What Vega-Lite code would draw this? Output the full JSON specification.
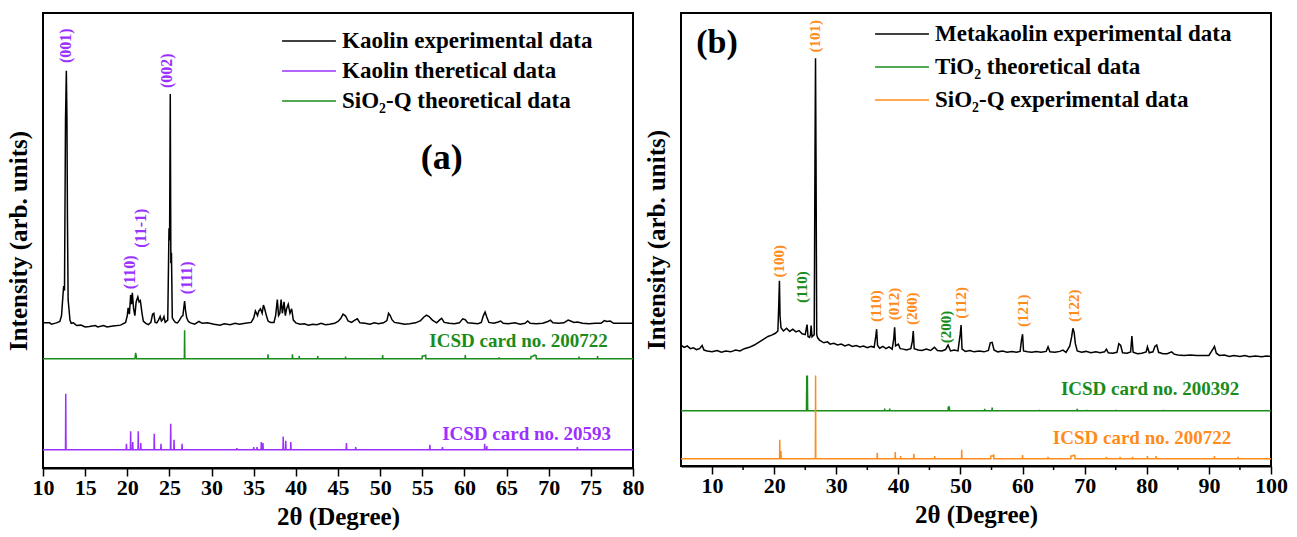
{
  "$schema": "https://vega.github.io/schema/vega-lite/v6.json",
  "background": "white",
  "padding": {"left": 5, "top": 12, "right": 5, "bottom": 5},
  "bounds": "flush",
  "spacing": 48,
  "config": {
    "font": "Liberation Serif",
    "view": {"stroke": "black", "strokeWidth": 2},
    "axis": {
      "grid": false,
      "labelFont": "Liberation Serif",
      "labelFontSize": 22,
      "labelFontWeight": "bold",
      "labelColor": "black",
      "titleFont": "Liberation Serif",
      "titleFontSize": 25,
      "titleFontWeight": "bold",
      "titleColor": "black",
      "tickColor": "black",
      "tickWidth": 1.5,
      "domainColor": "black",
      "domainWidth": 2,
      "labelOverlap": false,
      "labelFlush": false
    },
    "legend": {
      "labelFont": "Liberation Serif",
      "labelFontWeight": "bold",
      "labelFontSize": 23,
      "labelColor": "black",
      "labelLimit": 0,
      "symbolType": "stroke",
      "symbolSize": 2900,
      "symbolStrokeWidth": 1.5,
      "clipHeight": 22,
      "labelOffset": 5,
      "rowPadding": 7,
      "padding": 0,
      "title": null
    }
  },
  "resolve": {"scale": {"color": "independent"}},
  "hconcat": [
    {
      "width": 590,
      "height": 455,
      "layer": [
        {
          "data": {"name": "a_lines"},
          "mark": {"type": "line", "strokeWidth": 1.5},
          "encoding": {
            "x": {"field": "x", "type": "quantitative", "scale": {"domain": [10, 80], "nice": false, "zero": false},
              "axis": {"title": "2θ (Degree)", "values": [10,12.5,15,17.5,20,22.5,25,27.5,30,32.5,35,37.5,40,42.5,45,47.5,50,52.5,55,57.5,60,62.5,65,67.5,70,72.5,75,77.5,80],
                "labelExpr": "abs(datum.value / 5 - round(datum.value / 5)) < 0.01 ? datum.label : ''", "labelOverlap": false,
                "tickSize": {"condition": {"test": "abs(datum.value / 5 - round(datum.value / 5)) < 0.01", "value": 8}, "value": 4},
                "labelPadding": 1, "titlePadding": 6}},
            "y": {"field": "y", "type": "quantitative", "scale": {"domain": [0, 100], "nice": false},
              "axis": {"title": "Intensity (arb. units)", "labels": false, "ticks": false, "domain": false, "titlePadding": 12}},
            "color": {"field": "s", "type": "nominal",
              "scale": {"domain": ["Kaolin experimental data", "Kaolin theretical data", "SiO₂-Q theoretical data"], "range": ["#000000", "#9b30ff", "#1a8c1a"]},
              "legend": {"orient": "none", "legendX": 238, "legendY": 17}}
          }
        },
        {
          "data": {"name": "a_peaks"},
          "mark": {"type": "text", "angle": 270, "align": "left", "baseline": "middle", "font": "Liberation Serif", "fontWeight": "bold", "fontSize": 16, "color": "#9b30ff"},
          "encoding": {
            "x": {"field": "x", "type": "quantitative"},
            "y": {"field": "y", "type": "quantitative"},
            "text": {"field": "label"}
          }
        },
        {
          "data": {"name": "a_card_green"},
          "mark": {"type": "text", "align": "right", "baseline": "middle", "font": "Liberation Serif", "fontWeight": "bold", "fontSize": 19, "color": "#1a8c1a"},
          "encoding": {
            "x": {"field": "x", "type": "quantitative"},
            "y": {"field": "y", "type": "quantitative"},
            "text": {"field": "label"}
          }
        },
        {
          "data": {"name": "a_card_purple"},
          "mark": {"type": "text", "align": "right", "baseline": "middle", "font": "Liberation Serif", "fontWeight": "bold", "fontSize": 19, "color": "#9b30ff"},
          "encoding": {
            "x": {"field": "x", "type": "quantitative"},
            "y": {"field": "y", "type": "quantitative"},
            "text": {"field": "label"}
          }
        },
        {
          "data": {"name": "a_tag"},
          "mark": {"type": "text", "align": "center", "baseline": "middle", "font": "Liberation Serif", "fontWeight": "bold", "fontSize": 36, "color": "black"},
          "encoding": {
            "x": {"field": "x", "type": "quantitative"},
            "y": {"field": "y", "type": "quantitative"},
            "text": {"field": "label"}
          }
        }
      ]
    },
    {
      "width": 590,
      "height": 453,
      "layer": [
        {
          "data": {"name": "b_lines"},
          "mark": {"type": "line", "strokeWidth": 1.5},
          "encoding": {
            "x": {"field": "x", "type": "quantitative", "scale": {"domain": [5, 100], "nice": false, "zero": false},
              "axis": {"title": "2θ (Degree)", "values": [10,20,30,40,50,60,70,80,90,100],
                "labelOverlap": false, "tickSize": 8,
                "labelPadding": 1, "titlePadding": 6}},
            "y": {"field": "y", "type": "quantitative", "scale": {"domain": [0, 100], "nice": false},
              "axis": {"title": "Intensity (arb. units)", "labels": false, "ticks": false, "domain": false, "titlePadding": 12}},
            "color": {"field": "s", "type": "nominal",
              "scale": {"domain": ["Metakaolin experimental data", "TiO₂ theoretical data", "SiO₂-Q experimental data"], "range": ["#000000", "#1a8c1a", "#ff8c1a"]},
              "legend": {"orient": "none", "legendX": 193, "legendY": 10, "rowPadding": 10}}
          }
        },
        {
          "data": {"name": "b_minor"},
          "mark": {"type": "tick", "orient": "vertical", "size": 4, "thickness": 1.5, "yOffset": 2, "color": "black", "opacity": 1},
          "encoding": {
            "x": {"field": "x", "type": "quantitative"},
            "y": {"datum": 0, "type": "quantitative"}
          }
        },
        {
          "data": {"name": "b_peaks_orange"},
          "mark": {"type": "text", "angle": 270, "align": "left", "baseline": "middle", "font": "Liberation Serif", "fontWeight": "bold", "fontSize": 15, "color": "#ff8c1a"},
          "encoding": {
            "x": {"field": "x", "type": "quantitative"},
            "y": {"field": "y", "type": "quantitative"},
            "text": {"field": "label"}
          }
        },
        {
          "data": {"name": "b_peaks_green"},
          "mark": {"type": "text", "angle": 270, "align": "left", "baseline": "middle", "font": "Liberation Serif", "fontWeight": "bold", "fontSize": 15, "color": "#1a8c1a"},
          "encoding": {
            "x": {"field": "x", "type": "quantitative"},
            "y": {"field": "y", "type": "quantitative"},
            "text": {"field": "label"}
          }
        },
        {
          "data": {"name": "b_card_green"},
          "mark": {"type": "text", "align": "right", "baseline": "middle", "font": "Liberation Serif", "fontWeight": "bold", "fontSize": 19, "color": "#1a8c1a"},
          "encoding": {
            "x": {"field": "x", "type": "quantitative"},
            "y": {"field": "y", "type": "quantitative"},
            "text": {"field": "label"}
          }
        },
        {
          "data": {"name": "b_card_orange"},
          "mark": {"type": "text", "align": "right", "baseline": "middle", "font": "Liberation Serif", "fontWeight": "bold", "fontSize": 19, "color": "#ff8c1a"},
          "encoding": {
            "x": {"field": "x", "type": "quantitative"},
            "y": {"field": "y", "type": "quantitative"},
            "text": {"field": "label"}
          }
        },
        {
          "data": {"name": "b_tag"},
          "mark": {"type": "text", "align": "center", "baseline": "middle", "font": "Liberation Serif", "fontWeight": "bold", "fontSize": 34, "color": "black"},
          "encoding": {
            "x": {"field": "x", "type": "quantitative"},
            "y": {"field": "y", "type": "quantitative"},
            "text": {"field": "label"}
          }
        }
      ]
    }
  ],
  "datasets": {
    "b_minor": [{"x": 15}, {"x": 25}, {"x": 35}, {"x": 45}, {"x": 55}, {"x": 65}, {"x": 75}, {"x": 85}, {"x": 95}],
    "a_peaks": [
      {"x": 12.75, "y": 89.0, "label": "(001)"},
      {"x": 20.3, "y": 39.3, "label": "(110)"},
      {"x": 21.65, "y": 48.4, "label": "(11-1)"},
      {"x": 24.7, "y": 83.5, "label": "(002)"},
      {"x": 27.05, "y": 38.2, "label": "(111)"}
    ],
    "a_card_green": [{"x": 77.0, "y": 27.9, "label": "ICSD card no. 200722"}],
    "a_card_purple": [{"x": 77.4, "y": 7.5, "label": "ICSD card no. 20593"}],
    "a_tag": [{"x": 57.3, "y": 68.1, "label": "(a)"}],
    "b_peaks_orange": [
      {"x": 20.8, "y": 41.6, "label": "(100)"},
      {"x": 26.55, "y": 91.3, "label": "(101)"},
      {"x": 36.4, "y": 31.8, "label": "(110)"},
      {"x": 39.3, "y": 32.2, "label": "(012)"},
      {"x": 42.2, "y": 31.1, "label": "(200)"},
      {"x": 50.1, "y": 32.5, "label": "(112)"},
      {"x": 60.1, "y": 30.7, "label": "(121)"},
      {"x": 68.3, "y": 31.8, "label": "(122)"}
    ],
    "b_peaks_green": [
      {"x": 24.5, "y": 36.0, "label": "(110)"},
      {"x": 47.6, "y": 27.1, "label": "(200)"}
    ],
    "b_card_green": [{"x": 94.9, "y": 17.1, "label": "ICSD card no. 200392"}],
    "b_card_orange": [{"x": 93.6, "y": 6.2, "label": "ICSD card no. 200722"}],
    "b_tag": [{"x": 10.8, "y": 93.3, "label": "(b)"}],
    "a_lines": [
      {"s": "Kaolin experimental data", "x": 10.0, "y": 31.9},
      {"s": "Kaolin experimental data", "x": 10.8, "y": 31.9},
      {"s": "Kaolin experimental data", "x": 11.0, "y": 31.6},
      {"s": "Kaolin experimental data", "x": 11.6, "y": 31.9},
      {"s": "Kaolin experimental data", "x": 12.0, "y": 32.2},
      {"s": "Kaolin experimental data", "x": 12.2, "y": 33.5},
      {"s": "Kaolin experimental data", "x": 12.35, "y": 37.5},
      {"s": "Kaolin experimental data", "x": 12.45, "y": 40.0},
      {"s": "Kaolin experimental data", "x": 12.55, "y": 39.0},
      {"s": "Kaolin experimental data", "x": 12.67, "y": 76.5},
      {"s": "Kaolin experimental data", "x": 12.77, "y": 87.3},
      {"s": "Kaolin experimental data", "x": 12.84, "y": 77.0},
      {"s": "Kaolin experimental data", "x": 12.9, "y": 55.0},
      {"s": "Kaolin experimental data", "x": 12.98, "y": 37.0},
      {"s": "Kaolin experimental data", "x": 13.08, "y": 35.0},
      {"s": "Kaolin experimental data", "x": 13.2, "y": 32.5},
      {"s": "Kaolin experimental data", "x": 13.35, "y": 31.8},
      {"s": "Kaolin experimental data", "x": 13.6, "y": 31.9},
      {"s": "Kaolin experimental data", "x": 14.0, "y": 31.3},
      {"s": "Kaolin experimental data", "x": 14.5, "y": 31.4},
      {"s": "Kaolin experimental data", "x": 15.0, "y": 31.0},
      {"s": "Kaolin experimental data", "x": 15.5, "y": 31.1},
      {"s": "Kaolin experimental data", "x": 16.2, "y": 31.3},
      {"s": "Kaolin experimental data", "x": 16.5, "y": 31.0},
      {"s": "Kaolin experimental data", "x": 17.2, "y": 31.3},
      {"s": "Kaolin experimental data", "x": 17.6, "y": 31.0},
      {"s": "Kaolin experimental data", "x": 18.3, "y": 31.2},
      {"s": "Kaolin experimental data", "x": 18.8, "y": 31.3},
      {"s": "Kaolin experimental data", "x": 19.2, "y": 31.4},
      {"s": "Kaolin experimental data", "x": 19.8, "y": 32.0},
      {"s": "Kaolin experimental data", "x": 20.0, "y": 33.5},
      {"s": "Kaolin experimental data", "x": 20.1, "y": 35.2},
      {"s": "Kaolin experimental data", "x": 20.25, "y": 33.8},
      {"s": "Kaolin experimental data", "x": 20.4, "y": 38.0},
      {"s": "Kaolin experimental data", "x": 20.5, "y": 36.0},
      {"s": "Kaolin experimental data", "x": 20.6, "y": 38.5},
      {"s": "Kaolin experimental data", "x": 20.75, "y": 35.0},
      {"s": "Kaolin experimental data", "x": 20.9, "y": 33.5},
      {"s": "Kaolin experimental data", "x": 21.05, "y": 36.5},
      {"s": "Kaolin experimental data", "x": 21.25, "y": 37.6},
      {"s": "Kaolin experimental data", "x": 21.4, "y": 36.5},
      {"s": "Kaolin experimental data", "x": 21.55, "y": 36.8},
      {"s": "Kaolin experimental data", "x": 21.75, "y": 34.0},
      {"s": "Kaolin experimental data", "x": 21.9, "y": 32.3},
      {"s": "Kaolin experimental data", "x": 22.2, "y": 31.8},
      {"s": "Kaolin experimental data", "x": 22.5, "y": 31.5},
      {"s": "Kaolin experimental data", "x": 22.8, "y": 32.0},
      {"s": "Kaolin experimental data", "x": 23.0, "y": 33.8},
      {"s": "Kaolin experimental data", "x": 23.15, "y": 34.0},
      {"s": "Kaolin experimental data", "x": 23.3, "y": 32.0},
      {"s": "Kaolin experimental data", "x": 23.5, "y": 31.9},
      {"s": "Kaolin experimental data", "x": 23.7, "y": 32.5},
      {"s": "Kaolin experimental data", "x": 23.9, "y": 33.3},
      {"s": "Kaolin experimental data", "x": 24.05, "y": 32.3},
      {"s": "Kaolin experimental data", "x": 24.2, "y": 32.6},
      {"s": "Kaolin experimental data", "x": 24.35, "y": 33.3},
      {"s": "Kaolin experimental data", "x": 24.5, "y": 32.0},
      {"s": "Kaolin experimental data", "x": 24.8, "y": 32.5},
      {"s": "Kaolin experimental data", "x": 24.95, "y": 52.7},
      {"s": "Kaolin experimental data", "x": 25.02, "y": 50.0},
      {"s": "Kaolin experimental data", "x": 25.1, "y": 82.2},
      {"s": "Kaolin experimental data", "x": 25.17, "y": 45.0},
      {"s": "Kaolin experimental data", "x": 25.24, "y": 47.3},
      {"s": "Kaolin experimental data", "x": 25.34, "y": 33.0},
      {"s": "Kaolin experimental data", "x": 25.5, "y": 32.5},
      {"s": "Kaolin experimental data", "x": 25.7, "y": 32.0},
      {"s": "Kaolin experimental data", "x": 25.95, "y": 31.9},
      {"s": "Kaolin experimental data", "x": 26.2, "y": 32.5},
      {"s": "Kaolin experimental data", "x": 26.45, "y": 33.3},
      {"s": "Kaolin experimental data", "x": 26.6, "y": 33.5},
      {"s": "Kaolin experimental data", "x": 26.8, "y": 36.7},
      {"s": "Kaolin experimental data", "x": 26.92, "y": 34.5},
      {"s": "Kaolin experimental data", "x": 27.05, "y": 33.0},
      {"s": "Kaolin experimental data", "x": 27.25, "y": 32.2},
      {"s": "Kaolin experimental data", "x": 27.5, "y": 31.9},
      {"s": "Kaolin experimental data", "x": 28.0, "y": 31.6},
      {"s": "Kaolin experimental data", "x": 28.5, "y": 32.2},
      {"s": "Kaolin experimental data", "x": 28.9, "y": 31.8},
      {"s": "Kaolin experimental data", "x": 29.5, "y": 31.9},
      {"s": "Kaolin experimental data", "x": 30.3, "y": 31.6},
      {"s": "Kaolin experimental data", "x": 31.0, "y": 31.4},
      {"s": "Kaolin experimental data", "x": 31.5, "y": 31.7},
      {"s": "Kaolin experimental data", "x": 32.2, "y": 31.5},
      {"s": "Kaolin experimental data", "x": 32.8, "y": 31.8},
      {"s": "Kaolin experimental data", "x": 33.3, "y": 31.6},
      {"s": "Kaolin experimental data", "x": 34.0, "y": 31.8},
      {"s": "Kaolin experimental data", "x": 34.7, "y": 32.0},
      {"s": "Kaolin experimental data", "x": 35.0, "y": 33.0},
      {"s": "Kaolin experimental data", "x": 35.2, "y": 34.5},
      {"s": "Kaolin experimental data", "x": 35.45, "y": 33.5},
      {"s": "Kaolin experimental data", "x": 35.6, "y": 34.5},
      {"s": "Kaolin experimental data", "x": 35.8, "y": 35.0},
      {"s": "Kaolin experimental data", "x": 36.0, "y": 34.0},
      {"s": "Kaolin experimental data", "x": 36.15, "y": 35.8},
      {"s": "Kaolin experimental data", "x": 36.3, "y": 35.0},
      {"s": "Kaolin experimental data", "x": 36.5, "y": 33.5},
      {"s": "Kaolin experimental data", "x": 36.7, "y": 32.3},
      {"s": "Kaolin experimental data", "x": 37.0, "y": 32.0},
      {"s": "Kaolin experimental data", "x": 37.4, "y": 32.0},
      {"s": "Kaolin experimental data", "x": 37.6, "y": 33.5},
      {"s": "Kaolin experimental data", "x": 37.8, "y": 37.0},
      {"s": "Kaolin experimental data", "x": 37.95, "y": 33.5},
      {"s": "Kaolin experimental data", "x": 38.1, "y": 34.0},
      {"s": "Kaolin experimental data", "x": 38.25, "y": 37.0},
      {"s": "Kaolin experimental data", "x": 38.4, "y": 34.0},
      {"s": "Kaolin experimental data", "x": 38.6, "y": 36.5},
      {"s": "Kaolin experimental data", "x": 38.75, "y": 33.5},
      {"s": "Kaolin experimental data", "x": 38.9, "y": 35.0},
      {"s": "Kaolin experimental data", "x": 39.1, "y": 36.0},
      {"s": "Kaolin experimental data", "x": 39.3, "y": 34.0},
      {"s": "Kaolin experimental data", "x": 39.5, "y": 35.0},
      {"s": "Kaolin experimental data", "x": 39.7, "y": 32.5},
      {"s": "Kaolin experimental data", "x": 40.0, "y": 31.9},
      {"s": "Kaolin experimental data", "x": 40.5, "y": 31.6},
      {"s": "Kaolin experimental data", "x": 41.0, "y": 31.7},
      {"s": "Kaolin experimental data", "x": 41.5, "y": 31.4},
      {"s": "Kaolin experimental data", "x": 42.0, "y": 31.6},
      {"s": "Kaolin experimental data", "x": 42.5, "y": 31.5},
      {"s": "Kaolin experimental data", "x": 43.0, "y": 31.8},
      {"s": "Kaolin experimental data", "x": 43.5, "y": 31.5},
      {"s": "Kaolin experimental data", "x": 44.0, "y": 31.6},
      {"s": "Kaolin experimental data", "x": 44.6, "y": 31.8},
      {"s": "Kaolin experimental data", "x": 45.0, "y": 32.2},
      {"s": "Kaolin experimental data", "x": 45.3, "y": 32.8},
      {"s": "Kaolin experimental data", "x": 45.6, "y": 33.8},
      {"s": "Kaolin experimental data", "x": 45.9, "y": 33.4},
      {"s": "Kaolin experimental data", "x": 46.2, "y": 32.3},
      {"s": "Kaolin experimental data", "x": 46.6, "y": 32.0},
      {"s": "Kaolin experimental data", "x": 47.0, "y": 32.5},
      {"s": "Kaolin experimental data", "x": 47.3, "y": 32.8},
      {"s": "Kaolin experimental data", "x": 47.6, "y": 31.9},
      {"s": "Kaolin experimental data", "x": 48.2, "y": 31.8},
      {"s": "Kaolin experimental data", "x": 48.8, "y": 31.6},
      {"s": "Kaolin experimental data", "x": 49.3, "y": 31.9},
      {"s": "Kaolin experimental data", "x": 49.8, "y": 31.7},
      {"s": "Kaolin experimental data", "x": 50.4, "y": 31.9},
      {"s": "Kaolin experimental data", "x": 50.8, "y": 32.4},
      {"s": "Kaolin experimental data", "x": 51.0, "y": 34.0},
      {"s": "Kaolin experimental data", "x": 51.2, "y": 33.5},
      {"s": "Kaolin experimental data", "x": 51.4, "y": 32.6},
      {"s": "Kaolin experimental data", "x": 51.7, "y": 32.0},
      {"s": "Kaolin experimental data", "x": 52.3, "y": 31.8},
      {"s": "Kaolin experimental data", "x": 52.9, "y": 31.6},
      {"s": "Kaolin experimental data", "x": 53.5, "y": 31.7},
      {"s": "Kaolin experimental data", "x": 54.2, "y": 31.9},
      {"s": "Kaolin experimental data", "x": 54.8, "y": 32.4},
      {"s": "Kaolin experimental data", "x": 55.2, "y": 33.2},
      {"s": "Kaolin experimental data", "x": 55.5, "y": 33.6},
      {"s": "Kaolin experimental data", "x": 55.8, "y": 33.3},
      {"s": "Kaolin experimental data", "x": 56.2, "y": 32.5},
      {"s": "Kaolin experimental data", "x": 56.7, "y": 31.9},
      {"s": "Kaolin experimental data", "x": 57.1, "y": 32.6},
      {"s": "Kaolin experimental data", "x": 57.3, "y": 32.9},
      {"s": "Kaolin experimental data", "x": 57.6, "y": 32.0},
      {"s": "Kaolin experimental data", "x": 58.2, "y": 31.8},
      {"s": "Kaolin experimental data", "x": 58.8, "y": 31.7},
      {"s": "Kaolin experimental data", "x": 59.4, "y": 31.9},
      {"s": "Kaolin experimental data", "x": 59.8, "y": 32.8},
      {"s": "Kaolin experimental data", "x": 60.1, "y": 32.6},
      {"s": "Kaolin experimental data", "x": 60.4, "y": 31.9},
      {"s": "Kaolin experimental data", "x": 61.0, "y": 31.8},
      {"s": "Kaolin experimental data", "x": 61.6, "y": 31.7},
      {"s": "Kaolin experimental data", "x": 62.0, "y": 32.0},
      {"s": "Kaolin experimental data", "x": 62.25, "y": 33.5},
      {"s": "Kaolin experimental data", "x": 62.45, "y": 34.3},
      {"s": "Kaolin experimental data", "x": 62.65, "y": 33.2},
      {"s": "Kaolin experimental data", "x": 62.9, "y": 32.0},
      {"s": "Kaolin experimental data", "x": 63.5, "y": 31.8},
      {"s": "Kaolin experimental data", "x": 64.0, "y": 32.1},
      {"s": "Kaolin experimental data", "x": 64.3, "y": 32.3},
      {"s": "Kaolin experimental data", "x": 64.6, "y": 31.8},
      {"s": "Kaolin experimental data", "x": 65.2, "y": 31.7},
      {"s": "Kaolin experimental data", "x": 66.0, "y": 31.9},
      {"s": "Kaolin experimental data", "x": 66.6, "y": 31.6},
      {"s": "Kaolin experimental data", "x": 67.2, "y": 31.8},
      {"s": "Kaolin experimental data", "x": 67.5, "y": 32.3},
      {"s": "Kaolin experimental data", "x": 67.8, "y": 31.8},
      {"s": "Kaolin experimental data", "x": 68.5, "y": 31.7},
      {"s": "Kaolin experimental data", "x": 69.3, "y": 31.8},
      {"s": "Kaolin experimental data", "x": 69.9, "y": 32.2},
      {"s": "Kaolin experimental data", "x": 70.2, "y": 32.5},
      {"s": "Kaolin experimental data", "x": 70.5, "y": 31.9},
      {"s": "Kaolin experimental data", "x": 71.2, "y": 31.8},
      {"s": "Kaolin experimental data", "x": 71.8, "y": 31.9},
      {"s": "Kaolin experimental data", "x": 72.3, "y": 32.5},
      {"s": "Kaolin experimental data", "x": 72.6, "y": 32.3},
      {"s": "Kaolin experimental data", "x": 73.0, "y": 32.0},
      {"s": "Kaolin experimental data", "x": 73.4, "y": 32.1},
      {"s": "Kaolin experimental data", "x": 74.0, "y": 31.8},
      {"s": "Kaolin experimental data", "x": 74.8, "y": 31.7},
      {"s": "Kaolin experimental data", "x": 75.5, "y": 31.8},
      {"s": "Kaolin experimental data", "x": 76.2, "y": 31.8},
      {"s": "Kaolin experimental data", "x": 76.6, "y": 32.4},
      {"s": "Kaolin experimental data", "x": 76.9, "y": 32.2},
      {"s": "Kaolin experimental data", "x": 77.3, "y": 32.3},
      {"s": "Kaolin experimental data", "x": 77.7, "y": 31.8},
      {"s": "Kaolin experimental data", "x": 78.5, "y": 31.8},
      {"s": "Kaolin experimental data", "x": 79.3, "y": 31.8},
      {"s": "Kaolin experimental data", "x": 80.0, "y": 31.8},

      {"s": "Kaolin theretical data", "x": 10.0, "y": 4.0},
      {"s": "Kaolin theretical data", "x": 12.67, "y": 4.0},
      {"s": "Kaolin theretical data", "x": 12.7, "y": 16.3},
      {"s": "Kaolin theretical data", "x": 12.73, "y": 4.0},
      {"s": "Kaolin theretical data", "x": 19.87, "y": 4.0},
      {"s": "Kaolin theretical data", "x": 19.9, "y": 5.3},
      {"s": "Kaolin theretical data", "x": 19.93, "y": 4.0},
      {"s": "Kaolin theretical data", "x": 20.37, "y": 4.0},
      {"s": "Kaolin theretical data", "x": 20.4, "y": 8.1},
      {"s": "Kaolin theretical data", "x": 20.43, "y": 4.0},
      {"s": "Kaolin theretical data", "x": 20.62, "y": 4.0},
      {"s": "Kaolin theretical data", "x": 20.65, "y": 5.7},
      {"s": "Kaolin theretical data", "x": 20.68, "y": 4.0},
      {"s": "Kaolin theretical data", "x": 21.27, "y": 4.0},
      {"s": "Kaolin theretical data", "x": 21.3, "y": 8.1},
      {"s": "Kaolin theretical data", "x": 21.33, "y": 4.0},
      {"s": "Kaolin theretical data", "x": 21.57, "y": 4.0},
      {"s": "Kaolin theretical data", "x": 21.6, "y": 5.5},
      {"s": "Kaolin theretical data", "x": 21.63, "y": 4.0},
      {"s": "Kaolin theretical data", "x": 23.17, "y": 4.0},
      {"s": "Kaolin theretical data", "x": 23.2, "y": 7.5},
      {"s": "Kaolin theretical data", "x": 23.23, "y": 4.0},
      {"s": "Kaolin theretical data", "x": 23.97, "y": 4.0},
      {"s": "Kaolin theretical data", "x": 24.0, "y": 5.3},
      {"s": "Kaolin theretical data", "x": 24.03, "y": 4.0},
      {"s": "Kaolin theretical data", "x": 25.12, "y": 4.0},
      {"s": "Kaolin theretical data", "x": 25.15, "y": 9.7},
      {"s": "Kaolin theretical data", "x": 25.18, "y": 4.0},
      {"s": "Kaolin theretical data", "x": 25.52, "y": 4.0},
      {"s": "Kaolin theretical data", "x": 25.55, "y": 6.2},
      {"s": "Kaolin theretical data", "x": 25.58, "y": 4.0},
      {"s": "Kaolin theretical data", "x": 26.47, "y": 4.0},
      {"s": "Kaolin theretical data", "x": 26.5, "y": 5.3},
      {"s": "Kaolin theretical data", "x": 26.53, "y": 4.0},
      {"s": "Kaolin theretical data", "x": 32.97, "y": 4.0},
      {"s": "Kaolin theretical data", "x": 33.0, "y": 4.4},
      {"s": "Kaolin theretical data", "x": 33.03, "y": 4.0},
      {"s": "Kaolin theretical data", "x": 34.97, "y": 4.0},
      {"s": "Kaolin theretical data", "x": 35.0, "y": 4.6},
      {"s": "Kaolin theretical data", "x": 35.03, "y": 4.0},
      {"s": "Kaolin theretical data", "x": 35.37, "y": 4.0},
      {"s": "Kaolin theretical data", "x": 35.4, "y": 4.6},
      {"s": "Kaolin theretical data", "x": 35.43, "y": 4.0},
      {"s": "Kaolin theretical data", "x": 35.87, "y": 4.0},
      {"s": "Kaolin theretical data", "x": 35.9, "y": 5.7},
      {"s": "Kaolin theretical data", "x": 35.93, "y": 4.0},
      {"s": "Kaolin theretical data", "x": 36.07, "y": 4.0},
      {"s": "Kaolin theretical data", "x": 36.1, "y": 5.5},
      {"s": "Kaolin theretical data", "x": 36.13, "y": 4.0},
      {"s": "Kaolin theretical data", "x": 38.47, "y": 4.0},
      {"s": "Kaolin theretical data", "x": 38.5, "y": 6.9},
      {"s": "Kaolin theretical data", "x": 38.53, "y": 4.0},
      {"s": "Kaolin theretical data", "x": 38.77, "y": 4.0},
      {"s": "Kaolin theretical data", "x": 38.8, "y": 6.0},
      {"s": "Kaolin theretical data", "x": 38.83, "y": 4.0},
      {"s": "Kaolin theretical data", "x": 39.37, "y": 4.0},
      {"s": "Kaolin theretical data", "x": 39.4, "y": 5.7},
      {"s": "Kaolin theretical data", "x": 39.43, "y": 4.0},
      {"s": "Kaolin theretical data", "x": 45.97, "y": 4.0},
      {"s": "Kaolin theretical data", "x": 46.0, "y": 5.5},
      {"s": "Kaolin theretical data", "x": 46.03, "y": 4.0},
      {"s": "Kaolin theretical data", "x": 47.07, "y": 4.0},
      {"s": "Kaolin theretical data", "x": 47.1, "y": 4.6},
      {"s": "Kaolin theretical data", "x": 47.13, "y": 4.0},
      {"s": "Kaolin theretical data", "x": 55.87, "y": 4.0},
      {"s": "Kaolin theretical data", "x": 55.9, "y": 5.1},
      {"s": "Kaolin theretical data", "x": 55.93, "y": 4.0},
      {"s": "Kaolin theretical data", "x": 57.37, "y": 4.0},
      {"s": "Kaolin theretical data", "x": 57.4, "y": 4.6},
      {"s": "Kaolin theretical data", "x": 57.43, "y": 4.0},
      {"s": "Kaolin theretical data", "x": 62.37, "y": 4.0},
      {"s": "Kaolin theretical data", "x": 62.4, "y": 5.3},
      {"s": "Kaolin theretical data", "x": 62.43, "y": 4.0},
      {"s": "Kaolin theretical data", "x": 62.62, "y": 4.0},
      {"s": "Kaolin theretical data", "x": 62.65, "y": 4.8},
      {"s": "Kaolin theretical data", "x": 62.68, "y": 4.0},
      {"s": "Kaolin theretical data", "x": 73.37, "y": 4.0},
      {"s": "Kaolin theretical data", "x": 73.4, "y": 4.6},
      {"s": "Kaolin theretical data", "x": 73.43, "y": 4.0},
      {"s": "Kaolin theretical data", "x": 80.0, "y": 4.0},

      {"s": "SiO₂-Q theoretical data", "x": 10.0, "y": 24.0},
      {"s": "SiO₂-Q theoretical data", "x": 20.9, "y": 24.0},
      {"s": "SiO₂-Q theoretical data", "x": 21.0, "y": 25.3},
      {"s": "SiO₂-Q theoretical data", "x": 21.1, "y": 24.0},
      {"s": "SiO₂-Q theoretical data", "x": 26.77, "y": 24.0},
      {"s": "SiO₂-Q theoretical data", "x": 26.8, "y": 30.3},
      {"s": "SiO₂-Q theoretical data", "x": 26.83, "y": 24.0},
      {"s": "SiO₂-Q theoretical data", "x": 36.67, "y": 24.0},
      {"s": "SiO₂-Q theoretical data", "x": 36.7, "y": 25.0},
      {"s": "SiO₂-Q theoretical data", "x": 36.73, "y": 24.0},
      {"s": "SiO₂-Q theoretical data", "x": 39.57, "y": 24.0},
      {"s": "SiO₂-Q theoretical data", "x": 39.6, "y": 25.0},
      {"s": "SiO₂-Q theoretical data", "x": 39.63, "y": 24.0},
      {"s": "SiO₂-Q theoretical data", "x": 40.37, "y": 24.0},
      {"s": "SiO₂-Q theoretical data", "x": 40.4, "y": 24.6},
      {"s": "SiO₂-Q theoretical data", "x": 40.43, "y": 24.0},
      {"s": "SiO₂-Q theoretical data", "x": 42.57, "y": 24.0},
      {"s": "SiO₂-Q theoretical data", "x": 42.6, "y": 24.6},
      {"s": "SiO₂-Q theoretical data", "x": 42.63, "y": 24.0},
      {"s": "SiO₂-Q theoretical data", "x": 45.87, "y": 24.0},
      {"s": "SiO₂-Q theoretical data", "x": 45.9, "y": 24.5},
      {"s": "SiO₂-Q theoretical data", "x": 45.93, "y": 24.0},
      {"s": "SiO₂-Q theoretical data", "x": 50.27, "y": 24.0},
      {"s": "SiO₂-Q theoretical data", "x": 50.3, "y": 24.8},
      {"s": "SiO₂-Q theoretical data", "x": 50.33, "y": 24.0},
      {"s": "SiO₂-Q theoretical data", "x": 54.97, "y": 24.0},
      {"s": "SiO₂-Q theoretical data", "x": 55.0, "y": 24.6},
      {"s": "SiO₂-Q theoretical data", "x": 55.2, "y": 24.6},
      {"s": "SiO₂-Q theoretical data", "x": 55.4, "y": 24.8},
      {"s": "SiO₂-Q theoretical data", "x": 55.43, "y": 24.0},
      {"s": "SiO₂-Q theoretical data", "x": 60.07, "y": 24.0},
      {"s": "SiO₂-Q theoretical data", "x": 60.1, "y": 24.8},
      {"s": "SiO₂-Q theoretical data", "x": 60.13, "y": 24.0},
      {"s": "SiO₂-Q theoretical data", "x": 64.07, "y": 24.0},
      {"s": "SiO₂-Q theoretical data", "x": 64.1, "y": 24.3},
      {"s": "SiO₂-Q theoretical data", "x": 64.13, "y": 24.0},
      {"s": "SiO₂-Q theoretical data", "x": 67.87, "y": 24.0},
      {"s": "SiO₂-Q theoretical data", "x": 67.9, "y": 24.5},
      {"s": "SiO₂-Q theoretical data", "x": 68.1, "y": 24.5},
      {"s": "SiO₂-Q theoretical data", "x": 68.3, "y": 24.8},
      {"s": "SiO₂-Q theoretical data", "x": 68.5, "y": 24.7},
      {"s": "SiO₂-Q theoretical data", "x": 68.53, "y": 24.0},
      {"s": "SiO₂-Q theoretical data", "x": 73.57, "y": 24.0},
      {"s": "SiO₂-Q theoretical data", "x": 73.6, "y": 24.5},
      {"s": "SiO₂-Q theoretical data", "x": 73.63, "y": 24.0},
      {"s": "SiO₂-Q theoretical data", "x": 75.77, "y": 24.0},
      {"s": "SiO₂-Q theoretical data", "x": 75.8, "y": 24.6},
      {"s": "SiO₂-Q theoretical data", "x": 75.83, "y": 24.0},
      {"s": "SiO₂-Q theoretical data", "x": 80.0, "y": 24.0}
    ],
    "b_lines": [
      {"s": "Metakaolin experimental data", "x": 5.0, "y": 26.7},
      {"s": "Metakaolin experimental data", "x": 5.5, "y": 26.2},
      {"s": "Metakaolin experimental data", "x": 6.0, "y": 26.5},
      {"s": "Metakaolin experimental data", "x": 6.5, "y": 25.9},
      {"s": "Metakaolin experimental data", "x": 7.0, "y": 26.1},
      {"s": "Metakaolin experimental data", "x": 7.5, "y": 25.7},
      {"s": "Metakaolin experimental data", "x": 8.0, "y": 25.9},
      {"s": "Metakaolin experimental data", "x": 8.4, "y": 26.6},
      {"s": "Metakaolin experimental data", "x": 8.7, "y": 25.6},
      {"s": "Metakaolin experimental data", "x": 9.2, "y": 25.4},
      {"s": "Metakaolin experimental data", "x": 10.0, "y": 25.2},
      {"s": "Metakaolin experimental data", "x": 10.8, "y": 25.5},
      {"s": "Metakaolin experimental data", "x": 11.5, "y": 25.1},
      {"s": "Metakaolin experimental data", "x": 12.2, "y": 25.4},
      {"s": "Metakaolin experimental data", "x": 13.0, "y": 25.2},
      {"s": "Metakaolin experimental data", "x": 13.8, "y": 25.6},
      {"s": "Metakaolin experimental data", "x": 14.5, "y": 25.4},
      {"s": "Metakaolin experimental data", "x": 15.2, "y": 25.9},
      {"s": "Metakaolin experimental data", "x": 16.0, "y": 26.2},
      {"s": "Metakaolin experimental data", "x": 16.8, "y": 26.7},
      {"s": "Metakaolin experimental data", "x": 17.5, "y": 27.3},
      {"s": "Metakaolin experimental data", "x": 18.2, "y": 27.9},
      {"s": "Metakaolin experimental data", "x": 19.0, "y": 28.6},
      {"s": "Metakaolin experimental data", "x": 19.6, "y": 28.9},
      {"s": "Metakaolin experimental data", "x": 20.2, "y": 29.3},
      {"s": "Metakaolin experimental data", "x": 20.6, "y": 29.8},
      {"s": "Metakaolin experimental data", "x": 20.75, "y": 36.0},
      {"s": "Metakaolin experimental data", "x": 20.85, "y": 40.9},
      {"s": "Metakaolin experimental data", "x": 20.95, "y": 33.0},
      {"s": "Metakaolin experimental data", "x": 21.1, "y": 30.5},
      {"s": "Metakaolin experimental data", "x": 21.5, "y": 29.8},
      {"s": "Metakaolin experimental data", "x": 22.0, "y": 30.4},
      {"s": "Metakaolin experimental data", "x": 22.5, "y": 29.7},
      {"s": "Metakaolin experimental data", "x": 23.0, "y": 30.2},
      {"s": "Metakaolin experimental data", "x": 23.5, "y": 29.6},
      {"s": "Metakaolin experimental data", "x": 24.0, "y": 29.9},
      {"s": "Metakaolin experimental data", "x": 24.5, "y": 29.2},
      {"s": "Metakaolin experimental data", "x": 25.0, "y": 29.0},
      {"s": "Metakaolin experimental data", "x": 25.2, "y": 30.5},
      {"s": "Metakaolin experimental data", "x": 25.3, "y": 31.2},
      {"s": "Metakaolin experimental data", "x": 25.45, "y": 28.6},
      {"s": "Metakaolin experimental data", "x": 25.7, "y": 28.4},
      {"s": "Metakaolin experimental data", "x": 25.85, "y": 29.0},
      {"s": "Metakaolin experimental data", "x": 25.95, "y": 31.0},
      {"s": "Metakaolin experimental data", "x": 26.1, "y": 28.5},
      {"s": "Metakaolin experimental data", "x": 26.45, "y": 29.0},
      {"s": "Metakaolin experimental data", "x": 26.58, "y": 70.0},
      {"s": "Metakaolin experimental data", "x": 26.66, "y": 90.0},
      {"s": "Metakaolin experimental data", "x": 26.74, "y": 68.0},
      {"s": "Metakaolin experimental data", "x": 26.85, "y": 29.0},
      {"s": "Metakaolin experimental data", "x": 27.0, "y": 28.3},
      {"s": "Metakaolin experimental data", "x": 27.3, "y": 27.8},
      {"s": "Metakaolin experimental data", "x": 28.0, "y": 27.2},
      {"s": "Metakaolin experimental data", "x": 28.6, "y": 27.4},
      {"s": "Metakaolin experimental data", "x": 29.0, "y": 26.9},
      {"s": "Metakaolin experimental data", "x": 29.6, "y": 27.1},
      {"s": "Metakaolin experimental data", "x": 30.2, "y": 26.7},
      {"s": "Metakaolin experimental data", "x": 30.8, "y": 26.9},
      {"s": "Metakaolin experimental data", "x": 31.4, "y": 26.5},
      {"s": "Metakaolin experimental data", "x": 32.0, "y": 26.8},
      {"s": "Metakaolin experimental data", "x": 32.6, "y": 26.4},
      {"s": "Metakaolin experimental data", "x": 33.2, "y": 26.6},
      {"s": "Metakaolin experimental data", "x": 33.8, "y": 26.3},
      {"s": "Metakaolin experimental data", "x": 34.4, "y": 26.5},
      {"s": "Metakaolin experimental data", "x": 35.0, "y": 26.1},
      {"s": "Metakaolin experimental data", "x": 35.6, "y": 26.4},
      {"s": "Metakaolin experimental data", "x": 36.1, "y": 26.2},
      {"s": "Metakaolin experimental data", "x": 36.35, "y": 28.5},
      {"s": "Metakaolin experimental data", "x": 36.5, "y": 30.2},
      {"s": "Metakaolin experimental data", "x": 36.65, "y": 26.6},
      {"s": "Metakaolin experimental data", "x": 37.0, "y": 26.0},
      {"s": "Metakaolin experimental data", "x": 37.5, "y": 26.4},
      {"s": "Metakaolin experimental data", "x": 38.0, "y": 25.9},
      {"s": "Metakaolin experimental data", "x": 38.5, "y": 26.3},
      {"s": "Metakaolin experimental data", "x": 39.0, "y": 25.8},
      {"s": "Metakaolin experimental data", "x": 39.25, "y": 28.0},
      {"s": "Metakaolin experimental data", "x": 39.4, "y": 30.6},
      {"s": "Metakaolin experimental data", "x": 39.55, "y": 26.5},
      {"s": "Metakaolin experimental data", "x": 40.0, "y": 26.9},
      {"s": "Metakaolin experimental data", "x": 40.3, "y": 25.9},
      {"s": "Metakaolin experimental data", "x": 40.8, "y": 25.8},
      {"s": "Metakaolin experimental data", "x": 41.3, "y": 25.6},
      {"s": "Metakaolin experimental data", "x": 42.0, "y": 25.9},
      {"s": "Metakaolin experimental data", "x": 42.25, "y": 27.5},
      {"s": "Metakaolin experimental data", "x": 42.4, "y": 29.8},
      {"s": "Metakaolin experimental data", "x": 42.55, "y": 25.9},
      {"s": "Metakaolin experimental data", "x": 43.2, "y": 25.6},
      {"s": "Metakaolin experimental data", "x": 43.8, "y": 25.5},
      {"s": "Metakaolin experimental data", "x": 44.5, "y": 25.8},
      {"s": "Metakaolin experimental data", "x": 45.2, "y": 25.5},
      {"s": "Metakaolin experimental data", "x": 45.8, "y": 26.2},
      {"s": "Metakaolin experimental data", "x": 46.3, "y": 25.5},
      {"s": "Metakaolin experimental data", "x": 47.0, "y": 25.4},
      {"s": "Metakaolin experimental data", "x": 47.6, "y": 25.7},
      {"s": "Metakaolin experimental data", "x": 48.0, "y": 26.7},
      {"s": "Metakaolin experimental data", "x": 48.4, "y": 25.4},
      {"s": "Metakaolin experimental data", "x": 49.0, "y": 25.6},
      {"s": "Metakaolin experimental data", "x": 49.6, "y": 25.4},
      {"s": "Metakaolin experimental data", "x": 49.95, "y": 29.0},
      {"s": "Metakaolin experimental data", "x": 50.1, "y": 31.1},
      {"s": "Metakaolin experimental data", "x": 50.25, "y": 25.8},
      {"s": "Metakaolin experimental data", "x": 50.8, "y": 25.3},
      {"s": "Metakaolin experimental data", "x": 51.5, "y": 25.5},
      {"s": "Metakaolin experimental data", "x": 52.2, "y": 25.2},
      {"s": "Metakaolin experimental data", "x": 53.0, "y": 25.4},
      {"s": "Metakaolin experimental data", "x": 53.8, "y": 25.2},
      {"s": "Metakaolin experimental data", "x": 54.5, "y": 25.5},
      {"s": "Metakaolin experimental data", "x": 54.8, "y": 27.2},
      {"s": "Metakaolin experimental data", "x": 55.1, "y": 27.3},
      {"s": "Metakaolin experimental data", "x": 55.4, "y": 25.6},
      {"s": "Metakaolin experimental data", "x": 56.0, "y": 25.2},
      {"s": "Metakaolin experimental data", "x": 56.8, "y": 25.4},
      {"s": "Metakaolin experimental data", "x": 57.5, "y": 25.1},
      {"s": "Metakaolin experimental data", "x": 58.3, "y": 25.3},
      {"s": "Metakaolin experimental data", "x": 59.0, "y": 25.1},
      {"s": "Metakaolin experimental data", "x": 59.6, "y": 25.3},
      {"s": "Metakaolin experimental data", "x": 59.85, "y": 28.0},
      {"s": "Metakaolin experimental data", "x": 60.0, "y": 29.1},
      {"s": "Metakaolin experimental data", "x": 60.15, "y": 25.4},
      {"s": "Metakaolin experimental data", "x": 60.8, "y": 25.2},
      {"s": "Metakaolin experimental data", "x": 61.5, "y": 25.1},
      {"s": "Metakaolin experimental data", "x": 62.2, "y": 25.3},
      {"s": "Metakaolin experimental data", "x": 63.0, "y": 25.1},
      {"s": "Metakaolin experimental data", "x": 63.8, "y": 25.3},
      {"s": "Metakaolin experimental data", "x": 64.1, "y": 26.3},
      {"s": "Metakaolin experimental data", "x": 64.4, "y": 25.2},
      {"s": "Metakaolin experimental data", "x": 65.2, "y": 25.1},
      {"s": "Metakaolin experimental data", "x": 66.0, "y": 25.3},
      {"s": "Metakaolin experimental data", "x": 66.5, "y": 25.6},
      {"s": "Metakaolin experimental data", "x": 67.0, "y": 25.1},
      {"s": "Metakaolin experimental data", "x": 67.6, "y": 26.5},
      {"s": "Metakaolin experimental data", "x": 67.9, "y": 28.5},
      {"s": "Metakaolin experimental data", "x": 68.1, "y": 30.4},
      {"s": "Metakaolin experimental data", "x": 68.3, "y": 29.5},
      {"s": "Metakaolin experimental data", "x": 68.5, "y": 27.0},
      {"s": "Metakaolin experimental data", "x": 68.8, "y": 25.4},
      {"s": "Metakaolin experimental data", "x": 69.5, "y": 25.1},
      {"s": "Metakaolin experimental data", "x": 70.2, "y": 25.3},
      {"s": "Metakaolin experimental data", "x": 71.0, "y": 25.0},
      {"s": "Metakaolin experimental data", "x": 71.8, "y": 25.2},
      {"s": "Metakaolin experimental data", "x": 72.5, "y": 25.0},
      {"s": "Metakaolin experimental data", "x": 73.2, "y": 25.2},
      {"s": "Metakaolin experimental data", "x": 73.5, "y": 25.8},
      {"s": "Metakaolin experimental data", "x": 73.8, "y": 25.0},
      {"s": "Metakaolin experimental data", "x": 74.5, "y": 24.9},
      {"s": "Metakaolin experimental data", "x": 75.2, "y": 25.1},
      {"s": "Metakaolin experimental data", "x": 75.5, "y": 27.0},
      {"s": "Metakaolin experimental data", "x": 75.8, "y": 26.6},
      {"s": "Metakaolin experimental data", "x": 76.1, "y": 25.0},
      {"s": "Metakaolin experimental data", "x": 76.8, "y": 24.9},
      {"s": "Metakaolin experimental data", "x": 77.4, "y": 25.2},
      {"s": "Metakaolin experimental data", "x": 77.6, "y": 28.7},
      {"s": "Metakaolin experimental data", "x": 77.8, "y": 25.1},
      {"s": "Metakaolin experimental data", "x": 78.5, "y": 24.8},
      {"s": "Metakaolin experimental data", "x": 79.2, "y": 24.9},
      {"s": "Metakaolin experimental data", "x": 79.9, "y": 25.2},
      {"s": "Metakaolin experimental data", "x": 80.1, "y": 26.3},
      {"s": "Metakaolin experimental data", "x": 80.4, "y": 25.0},
      {"s": "Metakaolin experimental data", "x": 81.0, "y": 25.2},
      {"s": "Metakaolin experimental data", "x": 81.3, "y": 26.4},
      {"s": "Metakaolin experimental data", "x": 81.6, "y": 26.7},
      {"s": "Metakaolin experimental data", "x": 81.9, "y": 25.1},
      {"s": "Metakaolin experimental data", "x": 82.6, "y": 24.8},
      {"s": "Metakaolin experimental data", "x": 83.3, "y": 24.8},
      {"s": "Metakaolin experimental data", "x": 84.0, "y": 25.2},
      {"s": "Metakaolin experimental data", "x": 84.4, "y": 24.7},
      {"s": "Metakaolin experimental data", "x": 85.0, "y": 24.5},
      {"s": "Metakaolin experimental data", "x": 86.0, "y": 24.4},
      {"s": "Metakaolin experimental data", "x": 87.0, "y": 24.5},
      {"s": "Metakaolin experimental data", "x": 88.0, "y": 24.4},
      {"s": "Metakaolin experimental data", "x": 89.0, "y": 24.4},
      {"s": "Metakaolin experimental data", "x": 90.0, "y": 24.4},
      {"s": "Metakaolin experimental data", "x": 90.7, "y": 25.9},
      {"s": "Metakaolin experimental data", "x": 90.9, "y": 26.4},
      {"s": "Metakaolin experimental data", "x": 91.2, "y": 24.9},
      {"s": "Metakaolin experimental data", "x": 91.7, "y": 24.4},
      {"s": "Metakaolin experimental data", "x": 92.5, "y": 24.5},
      {"s": "Metakaolin experimental data", "x": 93.3, "y": 24.2},
      {"s": "Metakaolin experimental data", "x": 94.0, "y": 24.4},
      {"s": "Metakaolin experimental data", "x": 95.0, "y": 24.2},
      {"s": "Metakaolin experimental data", "x": 95.8, "y": 24.4},
      {"s": "Metakaolin experimental data", "x": 96.5, "y": 24.1},
      {"s": "Metakaolin experimental data", "x": 97.5, "y": 24.3},
      {"s": "Metakaolin experimental data", "x": 98.5, "y": 24.1},
      {"s": "Metakaolin experimental data", "x": 99.3, "y": 24.3},
      {"s": "Metakaolin experimental data", "x": 100.0, "y": 24.2},

      {"s": "TiO₂ theoretical data", "x": 5.0, "y": 12.2},
      {"s": "TiO₂ theoretical data", "x": 25.2, "y": 12.2},
      {"s": "TiO₂ theoretical data", "x": 25.25, "y": 19.8},
      {"s": "TiO₂ theoretical data", "x": 25.35, "y": 19.8},
      {"s": "TiO₂ theoretical data", "x": 25.4, "y": 12.2},
      {"s": "TiO₂ theoretical data", "x": 37.77, "y": 12.2},
      {"s": "TiO₂ theoretical data", "x": 37.8, "y": 12.7},
      {"s": "TiO₂ theoretical data", "x": 37.83, "y": 12.2},
      {"s": "TiO₂ theoretical data", "x": 38.57, "y": 12.2},
      {"s": "TiO₂ theoretical data", "x": 38.6, "y": 12.7},
      {"s": "TiO₂ theoretical data", "x": 38.63, "y": 12.2},
      {"s": "TiO₂ theoretical data", "x": 48.0, "y": 12.2},
      {"s": "TiO₂ theoretical data", "x": 48.05, "y": 13.0},
      {"s": "TiO₂ theoretical data", "x": 48.2, "y": 13.0},
      {"s": "TiO₂ theoretical data", "x": 48.25, "y": 12.2},
      {"s": "TiO₂ theoretical data", "x": 53.87, "y": 12.2},
      {"s": "TiO₂ theoretical data", "x": 53.9, "y": 12.6},
      {"s": "TiO₂ theoretical data", "x": 53.93, "y": 12.2},
      {"s": "TiO₂ theoretical data", "x": 55.07, "y": 12.2},
      {"s": "TiO₂ theoretical data", "x": 55.1, "y": 12.9},
      {"s": "TiO₂ theoretical data", "x": 55.13, "y": 12.2},
      {"s": "TiO₂ theoretical data", "x": 62.67, "y": 12.2},
      {"s": "TiO₂ theoretical data", "x": 62.7, "y": 12.4},
      {"s": "TiO₂ theoretical data", "x": 62.73, "y": 12.2},
      {"s": "TiO₂ theoretical data", "x": 68.77, "y": 12.2},
      {"s": "TiO₂ theoretical data", "x": 68.8, "y": 12.6},
      {"s": "TiO₂ theoretical data", "x": 68.83, "y": 12.2},
      {"s": "TiO₂ theoretical data", "x": 70.27, "y": 12.2},
      {"s": "TiO₂ theoretical data", "x": 70.3, "y": 12.4},
      {"s": "TiO₂ theoretical data", "x": 70.33, "y": 12.2},
      {"s": "TiO₂ theoretical data", "x": 75.07, "y": 12.2},
      {"s": "TiO₂ theoretical data", "x": 75.1, "y": 12.4},
      {"s": "TiO₂ theoretical data", "x": 75.13, "y": 12.2},
      {"s": "TiO₂ theoretical data", "x": 82.67, "y": 12.2},
      {"s": "TiO₂ theoretical data", "x": 82.7, "y": 12.4},
      {"s": "TiO₂ theoretical data", "x": 82.73, "y": 12.2},
      {"s": "TiO₂ theoretical data", "x": 100.0, "y": 12.2},

      {"s": "SiO₂-Q experimental data", "x": 5.0, "y": 1.6},
      {"s": "SiO₂-Q experimental data", "x": 20.87, "y": 1.6},
      {"s": "SiO₂-Q experimental data", "x": 20.9, "y": 5.8},
      {"s": "SiO₂-Q experimental data", "x": 20.93, "y": 1.6},
      {"s": "SiO₂-Q experimental data", "x": 21.07, "y": 1.6},
      {"s": "SiO₂-Q experimental data", "x": 21.1, "y": 3.3},
      {"s": "SiO₂-Q experimental data", "x": 21.13, "y": 1.6},
      {"s": "SiO₂-Q experimental data", "x": 26.64, "y": 1.6},
      {"s": "SiO₂-Q experimental data", "x": 26.67, "y": 20.0},
      {"s": "SiO₂-Q experimental data", "x": 26.7, "y": 1.6},
      {"s": "SiO₂-Q experimental data", "x": 36.57, "y": 1.6},
      {"s": "SiO₂-Q experimental data", "x": 36.6, "y": 2.9},
      {"s": "SiO₂-Q experimental data", "x": 36.63, "y": 1.6},
      {"s": "SiO₂-Q experimental data", "x": 39.47, "y": 1.6},
      {"s": "SiO₂-Q experimental data", "x": 39.5, "y": 3.1},
      {"s": "SiO₂-Q experimental data", "x": 39.53, "y": 1.6},
      {"s": "SiO₂-Q experimental data", "x": 40.32, "y": 1.6},
      {"s": "SiO₂-Q experimental data", "x": 40.35, "y": 2.2},
      {"s": "SiO₂-Q experimental data", "x": 40.38, "y": 1.6},
      {"s": "SiO₂-Q experimental data", "x": 42.47, "y": 1.6},
      {"s": "SiO₂-Q experimental data", "x": 42.5, "y": 2.7},
      {"s": "SiO₂-Q experimental data", "x": 42.53, "y": 1.6},
      {"s": "SiO₂-Q experimental data", "x": 45.82, "y": 1.6},
      {"s": "SiO₂-Q experimental data", "x": 45.85, "y": 2.2},
      {"s": "SiO₂-Q experimental data", "x": 45.88, "y": 1.6},
      {"s": "SiO₂-Q experimental data", "x": 50.17, "y": 1.6},
      {"s": "SiO₂-Q experimental data", "x": 50.2, "y": 3.6},
      {"s": "SiO₂-Q experimental data", "x": 50.23, "y": 1.6},
      {"s": "SiO₂-Q experimental data", "x": 54.87, "y": 1.6},
      {"s": "SiO₂-Q experimental data", "x": 54.9, "y": 2.2},
      {"s": "SiO₂-Q experimental data", "x": 55.1, "y": 2.2},
      {"s": "SiO₂-Q experimental data", "x": 55.35, "y": 2.4},
      {"s": "SiO₂-Q experimental data", "x": 55.38, "y": 1.6},
      {"s": "SiO₂-Q experimental data", "x": 59.97, "y": 1.6},
      {"s": "SiO₂-Q experimental data", "x": 60.0, "y": 2.4},
      {"s": "SiO₂-Q experimental data", "x": 60.03, "y": 1.6},
      {"s": "SiO₂-Q experimental data", "x": 64.07, "y": 1.6},
      {"s": "SiO₂-Q experimental data", "x": 64.1, "y": 2.0},
      {"s": "SiO₂-Q experimental data", "x": 64.13, "y": 1.6},
      {"s": "SiO₂-Q experimental data", "x": 67.77, "y": 1.6},
      {"s": "SiO₂-Q experimental data", "x": 67.8, "y": 2.2},
      {"s": "SiO₂-Q experimental data", "x": 68.0, "y": 2.2},
      {"s": "SiO₂-Q experimental data", "x": 68.2, "y": 2.4},
      {"s": "SiO₂-Q experimental data", "x": 68.4, "y": 2.4},
      {"s": "SiO₂-Q experimental data", "x": 68.43, "y": 1.6},
      {"s": "SiO₂-Q experimental data", "x": 73.47, "y": 1.6},
      {"s": "SiO₂-Q experimental data", "x": 73.5, "y": 2.0},
      {"s": "SiO₂-Q experimental data", "x": 73.53, "y": 1.6},
      {"s": "SiO₂-Q experimental data", "x": 75.67, "y": 1.6},
      {"s": "SiO₂-Q experimental data", "x": 75.7, "y": 2.0},
      {"s": "SiO₂-Q experimental data", "x": 75.73, "y": 1.6},
      {"s": "SiO₂-Q experimental data", "x": 77.67, "y": 1.6},
      {"s": "SiO₂-Q experimental data", "x": 77.7, "y": 2.0},
      {"s": "SiO₂-Q experimental data", "x": 77.73, "y": 1.6},
      {"s": "SiO₂-Q experimental data", "x": 80.07, "y": 1.6},
      {"s": "SiO₂-Q experimental data", "x": 80.1, "y": 2.2},
      {"s": "SiO₂-Q experimental data", "x": 80.13, "y": 1.6},
      {"s": "SiO₂-Q experimental data", "x": 81.47, "y": 1.6},
      {"s": "SiO₂-Q experimental data", "x": 81.5, "y": 2.2},
      {"s": "SiO₂-Q experimental data", "x": 81.53, "y": 1.6},
      {"s": "SiO₂-Q experimental data", "x": 90.87, "y": 1.6},
      {"s": "SiO₂-Q experimental data", "x": 90.9, "y": 2.2},
      {"s": "SiO₂-Q experimental data", "x": 90.93, "y": 1.6},
      {"s": "SiO₂-Q experimental data", "x": 94.67, "y": 1.6},
      {"s": "SiO₂-Q experimental data", "x": 94.7, "y": 2.0},
      {"s": "SiO₂-Q experimental data", "x": 94.73, "y": 1.6},
      {"s": "SiO₂-Q experimental data", "x": 100.0, "y": 1.6}
    ]
  }
}
